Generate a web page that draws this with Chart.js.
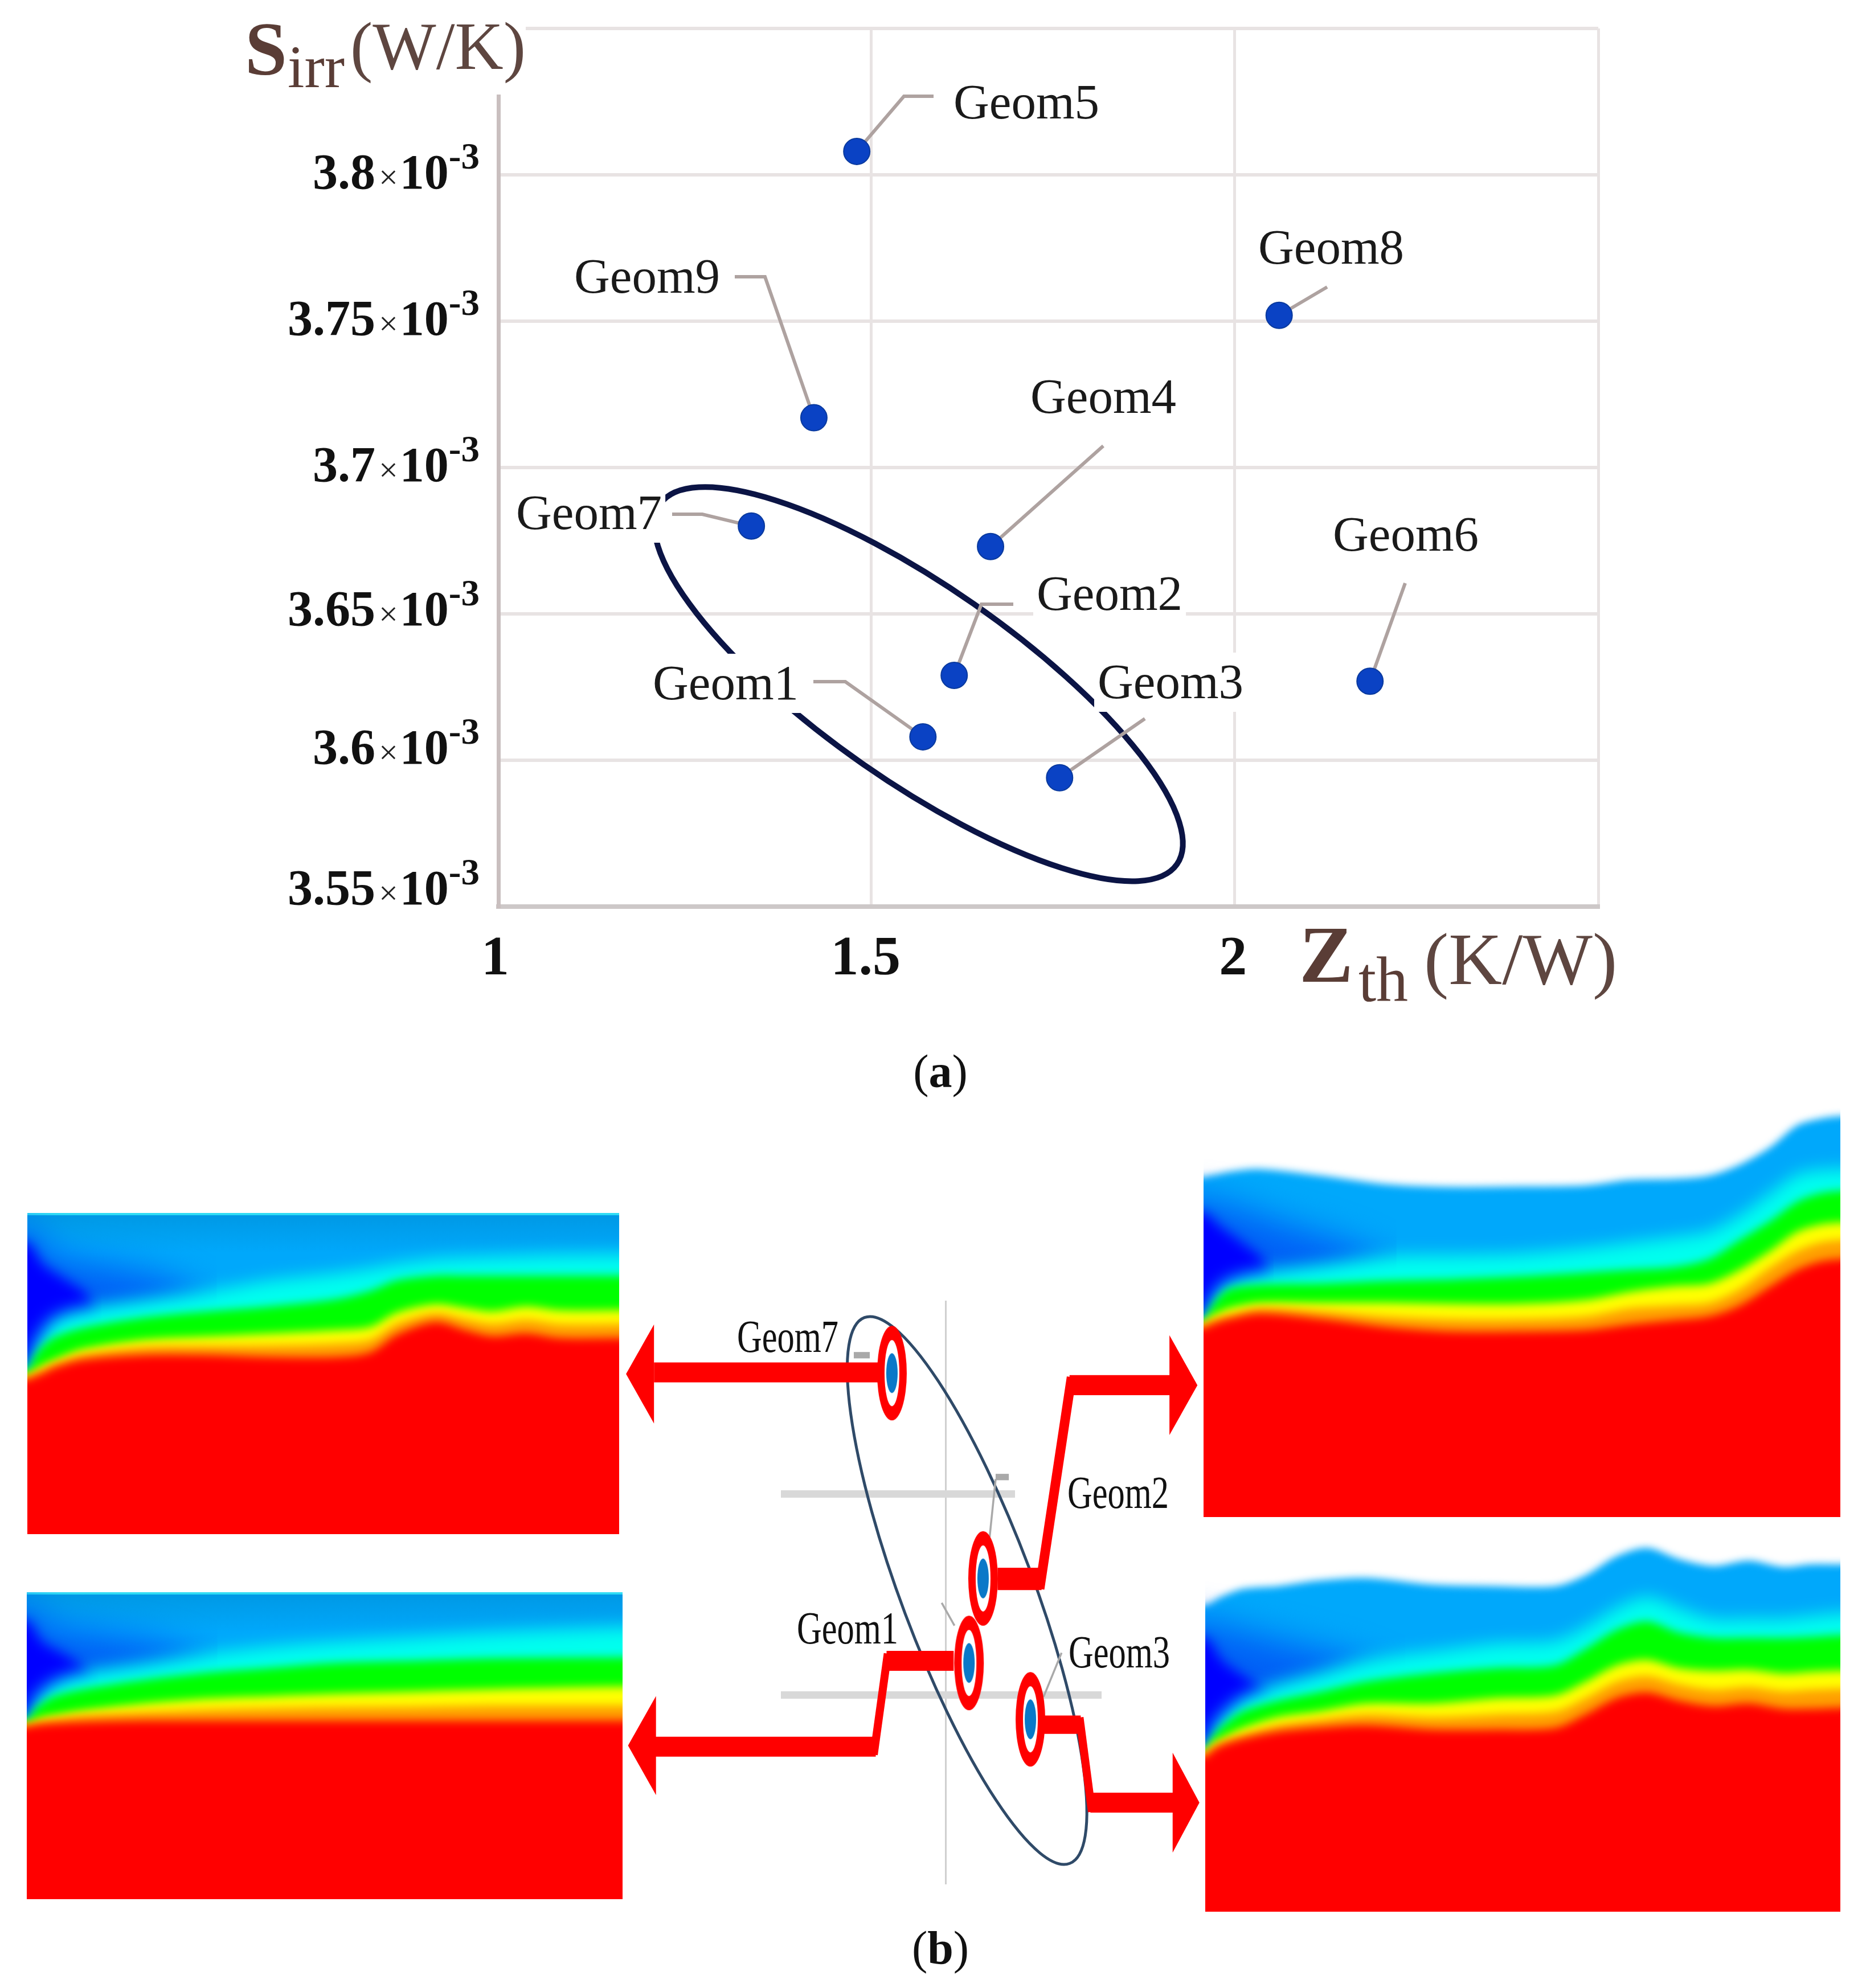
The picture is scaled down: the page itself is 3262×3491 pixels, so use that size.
<!DOCTYPE html>
<html>
<head>
<meta charset="utf-8">
<title>Sirr vs Zth</title>
<script src="https://cdn.jsdelivr.net/npm/chart.js@4/dist/chart.umd.min.js"></script>
<style>
    html, body { margin: 0; background: #fff; }
    body { position: relative; width: 3262px; height: 3491px; overflow: hidden; }
    canvas { position: absolute; }
    .caption { position: absolute; left: 1451px; width: 400px; text-align: center; font: 82px "Liberation Serif", serif; color: #111; line-height: 1; }
</style>
</head>
<body>
<canvas id="scatterA" width="3262" height="1960" style="left:0;top:0"></canvas>
<canvas id="panelG7" width="1039" height="564" style="left:48px;top:2130px"></canvas>
<canvas id="panelG1" width="1046" height="539" style="left:47px;top:2796px"></canvas>
<canvas id="panelG2" width="1118" height="726" style="left:2113px;top:1938px"></canvas>
<canvas id="panelG3" width="1115" height="653" style="left:2116px;top:2704px"></canvas>
<canvas id="scatterB" width="1030" height="1080" style="left:1090px;top:2260px"></canvas>
<div class="caption" style="top:1841px">(<b>a</b>)</div>
<div class="caption" style="top:3380px">(<b>b</b>)</div>

<script>
// ---- scatter data ----
const geomNames = ["Geom1", "Geom2", "Geom3", "Geom4", "Geom5", "Geom6", "Geom7", "Geom8", "Geom9"];
const zthValues = [1.571, 1.614, 1.759, 1.664, 1.480, 2.186, 1.335, 2.061, 1.421];
const sirrValues = [3.608, 3.629, 3.594, 3.673, 3.808, 3.627, 3.680, 3.752, 3.717];

const xTickValues = [1, 1.5, 2];
const xTickLabels = ["1", "1.5", "2"];
const yTickValues = [3.55, 3.6, 3.65, 3.7, 3.75, 3.8];
const yTickLabels = ["3.55", "3.6", "3.65", "3.7", "3.75", "3.8"];

// the four geometries picked out in part (b)
const pickedNames = ["Geom7", "Geom2", "Geom1", "Geom3"];

// ---- contour bands: x in % of panel width, values in image rows ----
const g7Stations = [0, 1, 2.5, 4.6, 9.5, 20, 31, 41, 52, 58, 62.4, 69, 74, 78.6, 84.3, 90, 100];
const g7Cyan = [425, 385, 350, 320, 300, 280, 262, 240, 225, 215, 205, 195, 192, 190, 188, 186, 185];
const g7Green = [430, 405, 380, 360, 340, 318, 305, 295, 280, 262, 240, 230, 230, 230, 230, 230, 230];
const g7Yellow = [440, 432, 420, 408, 385, 365, 358, 352, 345, 338, 308, 290, 298, 305, 295, 303, 303];
const g7Orange = [445, 438, 429, 416, 396, 380, 378, 377, 373, 365, 331, 309, 321, 331, 323, 332, 332];
const g7Red = [450, 445, 438, 425, 408, 398, 398, 402, 402, 392, 355, 328, 345, 358, 352, 362, 362];
const g7MidX = [0, 4.5, 14, 24, 32];
const g7Mid = [130, 185, 210, 240, 300];
const g7DeepX = [0, 2.5, 6, 10, 12.5];
const g7Deep = [160, 205, 235, 270, 340];

const g1Stations = [0, 1.2, 2.6, 4.7, 9.6, 20, 30.6, 41, 51.5, 65.5, 79.5, 100];
const g1Cyan = [1170, 1130, 1110, 1090, 1070, 1050, 1030, 1015, 1005, 995, 985, 975];
const g1Green = [1172, 1150, 1135, 1120, 1105, 1085, 1070, 1060, 1050, 1045, 1040, 1038];
const g1Yellow = [1178, 1172, 1165, 1160, 1150, 1135, 1125, 1120, 1115, 1110, 1105, 1100];
const g1Orange = [1183, 1178, 1172, 1168, 1160, 1153, 1148, 1145, 1143, 1142, 1140, 1140];
const g1Red = [1185, 1182, 1180, 1178, 1175, 1172, 1172, 1172, 1172, 1172, 1172, 1172];
const g1MidX = [0, 4.5, 14, 24, 32];
const g1Mid = [930, 970, 990, 1015, 1060];
const g1DeepX = [0, 2.5, 6, 9.5, 12];
const g1Deep = [960, 1005, 1030, 1060, 1110];

const g2Stations = [0, 0.9, 2, 4, 8.8, 18.5, 28.9, 39.3, 49.6, 60, 66.9, 73.8, 79.4, 84.2, 89, 93.2, 96.7, 100];
const g2Top = [175, 172, 170, 165, 160, 172, 188, 193, 192, 190, 180, 178, 172, 152, 120, 80, 68, 63];
const g2Cyan = [435, 410, 385, 365, 350, 335, 320, 318, 315, 305, 295, 285, 275, 245, 205, 170, 162, 160];
const g2Green = [438, 420, 400, 380, 372, 370, 365, 362, 357, 350, 345, 340, 325, 290, 255, 220, 205, 200];
const g2Yellow = [442, 432, 425, 415, 405, 405, 405, 407, 407, 400, 385, 375, 370, 345, 310, 275, 262, 258];
const g2Orange = [447, 440, 435, 428, 415, 420, 430, 435, 435, 430, 415, 410, 405, 380, 340, 310, 295, 290];
const g2Red = [452, 447, 442, 435, 425, 435, 450, 458, 458, 455, 445, 437, 430, 410, 375, 345, 330, 325];
const g2MidX = [0, 5, 12.5, 22, 30.3];
const g2Mid = [215, 230, 260, 295, 340];
const g2DeepX = [0, 2.5, 6, 9.5, 11];
const g2Deep = [240, 265, 295, 330, 400];

const g3Stations = [0, 1, 2.4, 5.9, 11.4, 17.6, 25.3, 35.7, 46.1, 55.1, 59.9, 64.8, 69.6, 74.5, 80, 85.6, 91.1, 95.3, 100];
const g3Top = [960, 955, 945, 930, 925, 915, 910, 922, 925, 925, 905, 870, 855, 875, 888, 878, 890, 885, 885];
const g3Cyan = [1222, 1190, 1165, 1130, 1105, 1085, 1060, 1045, 1030, 1025, 1000, 965, 945, 965, 985, 985, 985, 980, 975];
const g3Green = [1225, 1205, 1185, 1155, 1135, 1120, 1100, 1085, 1075, 1070, 1040, 1005, 990, 1010, 1020, 1020, 1020, 1018, 1015];
const g3Yellow = [1228, 1215, 1205, 1185, 1165, 1155, 1140, 1140, 1130, 1125, 1100, 1070, 1060, 1075, 1080, 1078, 1085, 1082, 1080];
const g3Orange = [1232, 1222, 1212, 1198, 1180, 1170, 1160, 1165, 1160, 1155, 1130, 1100, 1090, 1105, 1115, 1110, 1118, 1115, 1113];
const g3Red = [1238, 1228, 1218, 1205, 1192, 1185, 1180, 1188, 1188, 1185, 1160, 1130, 1120, 1135, 1145, 1140, 1150, 1150, 1148];
const g3MidX = [0, 5, 13.5, 22, 31.5];
const g3Mid = [990, 1005, 1030, 1055, 1100];
const g3DeepX = [0, 2.5, 6, 9.5, 12];
const g3Deep = [1020, 1060, 1090, 1120, 1170];

// ---- helpers ----
const SERIF = '"Liberation Serif", serif';
const SKY = "#00a8fb";

// callout layout for part (a): label left / centre y, then leader vertices towards the point
const calloutsA = {
    Geom1: { left: 1146, cy: 1200, leader: [[1428, 1197], [1484, 1197]] },
    Geom2: { left: 1820, cy: 1043, leader: [[1779, 1061], [1723, 1061]] },
    Geom3: { left: 1927, cy: 1198, leader: [[2010, 1262]] },
    Geom4: { left: 1809, cy: 697, leader: [[1937, 783]] },
    Geom5: { left: 1674, cy: 180, leader: [[1639, 169], [1587, 169]] },
    Geom6: { left: 2340, cy: 939, leader: [[2467, 1024]] },
    Geom7: { left: 906, cy: 901, leader: [[1180, 903], [1233, 903]] },
    Geom8: { left: 2209, cy: 435, leader: [[2330, 504]] },
    Geom9: { left: 1008, cy: 486, leader: [[1290, 486], [1343, 486]] },
};
// the picture's tick labels do not sit exactly on their ticks
const xLabelShift = [-22, -10, -3];
const yLabelShift = [-28, -18, -4, 0, 0, 0];

function textAt(ctx, text, x, y, font, color) {
    ctx.font = font;
    ctx.fillStyle = color;
    ctx.textAlign = "left";
    ctx.textBaseline = "alphabetic";
    ctx.fillText(text, x, y);
    return ctx.measureText(text).width;
}

function strokeEllipse(ctx, cx, cy, a, b, degrees, color, width) {
    ctx.save();
    ctx.beginPath();
    ctx.ellipse(cx, cy, a, b, degrees * Math.PI / 180, 0, Math.PI * 2);
    ctx.strokeStyle = color;
    ctx.lineWidth = width;
    ctx.stroke();
    ctx.restore();
}

function polyline(ctx, pts, color, width) {
    ctx.beginPath();
    pts.forEach((p, i) => (i ? ctx.lineTo(p[0], p[1]) : ctx.moveTo(p[0], p[1])));
    ctx.strokeStyle = color;
    ctx.lineWidth = width;
    ctx.lineJoin = "miter";
    ctx.stroke();
}

// ---- part (a) ----
const annotateA = {
    id: "annotateA",
    beforeDatasetsDraw(chart) {
        const ctx = chart.ctx;
        const sx = chart.scales.x, sy = chart.scales.y;
        ctx.save();
        // ellipse around the selected geometries
        strokeEllipse(ctx, sx.getPixelForValue(1.565), sy.getPixelForValue(3.626), 553, 171, 34.9, "#0b1445", 10);

        ctx.font = "87px " + SERIF;
        geomNames.forEach((name) => {
            const c = calloutsA[name];
            const w = ctx.measureText(name).width;
            ctx.fillStyle = "#fff";
            ctx.fillRect(c.left - 6, c.cy - 52, w + 12, 104);
        });
        geomNames.forEach((name, i) => {
            const c = calloutsA[name];
            const px = sx.getPixelForValue(zthValues[i]);
            const py = sy.getPixelForValue(sirrValues[i]);
            polyline(ctx, c.leader.concat([[px, py]]), "#aea2a0", 6);
            textAt(ctx, name, c.left, c.cy + 28, "87px " + SERIF, "#1a1a1a");
        });
        ctx.restore();
    },
    afterDraw(chart) {
        const ctx = chart.ctx;
        const sx = chart.scales.x, sy = chart.scales.y;
        ctx.save();

        // tick labels
        xTickValues.forEach((v, i) => {
            ctx.font = "bold 98px " + SERIF;
            const w = ctx.measureText(xTickLabels[i]).width;
            textAt(ctx, xTickLabels[i], Math.max(sx.getPixelForValue(v), sx.left) - w / 2 + xLabelShift[i], 1711, "bold 98px " + SERIF, "#111");
        });
        yTickValues.forEach((v, i) => {
            const base = sy.getPixelForValue(v) + 24 + yLabelShift[i];
            let x = 842;
            ctx.font = "bold 65px " + SERIF;
            x -= ctx.measureText("-3").width;
            textAt(ctx, "-3", x, base - 35, "bold 65px " + SERIF, "#111");
            ctx.font = "bold 86px " + SERIF;
            x -= ctx.measureText("10").width;
            textAt(ctx, "10", x, base, "bold 86px " + SERIF, "#111");
            ctx.font = "60px " + SERIF;
            x -= ctx.measureText("×").width + 3;
            textAt(ctx, "×", x, base, "60px " + SERIF, "#222");
            ctx.font = "bold 88px " + SERIF;
            x -= ctx.measureText(yTickLabels[i]).width + 6;
            textAt(ctx, yTickLabels[i], x, base, "bold 88px " + SERIF, "#111");
        });

        // axis titles, white patch trims the axis line and the top grid line
        ctx.fillStyle = "#fff";
        ctx.fillRect(425, 0, 498, 166);
        textAt(ctx, "S", 430, 131, "bold 133px " + SERIF, "#5a3d36");
        textAt(ctx, "irr", 505, 153, "106px " + SERIF, "#5a3d36");
        textAt(ctx, "(W/K)", 615, 121, "118px " + SERIF, "#5e4640");

        textAt(ctx, "Z", 2281, 1724, "bold 142px " + SERIF, "#5a3d36");
        textAt(ctx, "th", 2385, 1758, "112px " + SERIF, "#5a3d36");
        textAt(ctx, "(K/W)", 2500, 1728, "130px " + SERIF, "#5e4640");
        ctx.restore();
    },
};

new Chart(document.getElementById("scatterA"), {
    type: "scatter",
    data: {
        datasets: [{
            label: "Geometries",
            data: zthValues.map((x, i) => ({ x: x, y: sirrValues[i] })),
            pointRadius: 23,
            backgroundColor: "#0a42c4",
            borderColor: "#0a3a9e",
            borderWidth: 2,
        }],
    },
    options: {
        responsive: false,
        animation: false,
        devicePixelRatio: 1,
        events: [],
        layout: { padding: { left: 875, right: 456, top: 50, bottom: 368 } },
        plugins: { legend: { display: false }, tooltip: { enabled: false } },
        scales: {
            x: {
                type: "linear",
                min: 0.987,
                max: 2.5,
                afterBuildTicks: (axis) => { axis.ticks = [1.5, 2, 2.5].map((v) => ({ value: v })); },
                ticks: { display: false },
                grid: { color: "#e8e3e3", lineWidth: 5, drawTicks: false },
                border: { display: true, color: "#cdc8c8", width: 8 },
            },
            y: {
                type: "linear",
                min: 3.55,
                max: 3.85,
                afterBuildTicks: (axis) => { axis.ticks = yTickValues.concat([3.85]).map((v) => ({ value: v })); },
                ticks: { display: false },
                grid: { color: "#e8e3e3", lineWidth: 6, drawTicks: false },
                border: { display: true, color: "#c9bfbf", width: 7 },
            },
        },
    },
    plugins: [annotateA],
});

// ---- part (b), contour panels as stacked filled curves ----
function curve(stations, values) {
    // carry the ends past the panel so that the blur does not fade at the sides
    const pts = stations.map((x, i) => ({ x: x, y: values[i] }));
    pts.unshift({ x: -8, y: values[0] });
    if (stations[stations.length - 1] === 100) pts.push({ x: 108, y: values[values.length - 1] });
    return pts;
}

function contourPanel(id, rows, layers, flatTop) {
    const bottom = rows[1] + 80;
    // chart.js paints the first dataset last, so the list is turned round
    const datasets = layers.map((l) => ({
        label: l.name,
        data: curve(l.x, l.y),
        backgroundColor: l.color,
        blurPx: l.blur,
        borderWidth: 0,
        borderColor: "transparent",
        pointRadius: 0,
        tension: 0.3,
        fill: { value: bottom },
    })).reverse();

    new Chart(document.getElementById(id), {
        type: "line",
        data: { datasets: datasets },
        options: {
            responsive: false,
            animation: false,
            devicePixelRatio: 1,
            events: [],
            plugins: { legend: { display: false }, tooltip: { enabled: false } },
            scales: {
                x: { type: "linear", min: 0, max: 100, display: false },
                y: { type: "linear", min: rows[0], max: rows[1], reverse: true, display: false },
            },
        },
        plugins: [{
            id: "softBands",
            beforeDatasetsDraw(chart) {
                const a = chart.chartArea;
                const ctx = chart.ctx;
                if (flatTop) {
                    const g = ctx.createLinearGradient(0, a.top, 0, a.top + 70);
                    g.addColorStop(0, "#0098e4");
                    g.addColorStop(1, SKY);
                    ctx.fillStyle = g;
                    ctx.fillRect(a.left, a.top, a.width, a.height);
                    ctx.fillStyle = "#30dcf5";
                    ctx.fillRect(a.left, a.top, a.width, 4);
                }
                ctx.filter = "blur(" + datasets[datasets.length - 1].blurPx + "px)";
            },
            // the fill of a dataset is painted before this plugin's own before-hook,
            // so each layer sets up the blur of the layer that follows it
            afterDatasetDraw(chart, args) {
                const next = datasets[args.index - 1];
                chart.ctx.filter = next ? "blur(" + next.blurPx + "px)" : "none";
            },
            afterDatasetsDraw(chart) {
                chart.ctx.filter = "none";
            },
        }],
    });
}

function layerList(top, midX, mid, deepX, deep, stations, cyan, green, yellow, orange, red) {
    const list = [];
    if (top) list.push({ name: "sky", x: stations, y: top, color: SKY, blur: 7 });
    list.push({ name: "mid blue", x: midX, y: mid, color: "#0060f6", blur: 30 });
    list.push({ name: "deep blue", x: deepX, y: deep, color: "#0000ff", blur: 11 });
    list.push({ name: "cyan", x: stations, y: cyan, color: "#00ffee", blur: 15 });
    list.push({ name: "green", x: stations, y: green, color: "#00ff00", blur: 8 });
    list.push({ name: "yellow", x: stations, y: yellow, color: "#ffff00", blur: 8 });
    list.push({ name: "orange", x: stations, y: orange, color: "#ffa000", blur: 8 });
    list.push({ name: "red", x: stations, y: red, color: "#ff0000", blur: 8 });
    return list;
}

contourPanel("panelG7", [97, 777], layerList(null, g7MidX, g7Mid, g7DeepX, g7Deep, g7Stations, g7Cyan, g7Green, g7Yellow, g7Orange, g7Red), true);
contourPanel("panelG1", [900, 1550], layerList(null, g1MidX, g1Mid, g1DeepX, g1Deep, g1Stations, g1Cyan, g1Green, g1Yellow, g1Orange, g1Red), true);
contourPanel("panelG2", [40, 798], layerList(g2Top, g2MidX, g2Mid, g2DeepX, g2Deep, g2Stations, g2Cyan, g2Green, g2Yellow, g2Orange, g2Red), false);
contourPanel("panelG3", [840, 1522], layerList(g3Top, g3MidX, g3Mid, g3DeepX, g3Deep, g3Stations, g3Cyan, g3Green, g3Yellow, g3Orange, g3Red), false);

// ---- part (b), central detail of the ellipse ----
const RED = "#ff0000";

// ring marker, stretched like the cropped picture
function ringMarker() {
    const c = document.createElement("canvas");
    c.width = 56;
    c.height = 170;
    const g = c.getContext("2d");
    const blob = (rx, ry, color) => {
        g.beginPath();
        g.ellipse(28, 85, rx, ry, 0, 0, Math.PI * 2);
        g.fillStyle = color;
        g.fill();
    };
    blob(26, 83, RED);
    blob(13, 58, "#fff");
    blob(10, 35, "#0a78c8");
    return c;
}

function arrowHead(ctx, baseX, tipX, midY, halfH) {
    ctx.beginPath();
    ctx.moveTo(baseX, midY - halfH);
    ctx.lineTo(tipX, midY);
    ctx.lineTo(baseX, midY + halfH);
    ctx.closePath();
    ctx.fillStyle = RED;
    ctx.fill();
}

const annotateB = {
    id: "annotateB",
    beforeDatasetsDraw(chart) {
        const ctx = chart.ctx;
        const sx = chart.scales.x, sy = chart.scales.y;
        ctx.save();
        // upper grid line stops short of the Geom2 label
        ctx.fillStyle = "#fff";
        ctx.fillRect(692, sy.getPixelForValue(3.65) - 9, 170, 18);

        strokeEllipse(ctx, sx.getPixelForValue(1.565), sy.getPixelForValue(3.626), 512, 116, 69.4, "#2f4a68", 5);

        // the rest of the work is laid out in the crop's own coordinates
        ctx.save();
        ctx.translate(-40, -10);
        ctx.scale(0.7015, 0.7015);

        polyline(ctx, [[640, 185], [680, 185]], "#a9a9a9", 16);
        polyline(ctx, [[995, 490], [1028, 490]], "#a9a9a9", 16);
        polyline(ctx, [[995, 495], [980, 640]], "#a9a9a9", 5);
        polyline(ctx, [[860, 805], [892, 862]], "#a9a9a9", 5);
        polyline(ctx, [[1160, 930], [1115, 1040]], "#a9a9a9", 5);

        polyline(ctx, [[700, 228], [140, 228]], RED, 50);
        arrowHead(ctx, 140, 70, 232, 124);

        polyline(ctx, [[1000, 745], [1110, 745]], RED, 56);
        polyline(ctx, [[1105, 770], [1185, 240]], RED, 24);
        polyline(ctx, [[1180, 260], [1432, 260]], RED, 50);
        arrowHead(ctx, 1430, 1500, 260, 125);

        polyline(ctx, [[890, 950], [722, 950]], RED, 50);
        polyline(ctx, [[725, 932], [690, 1185]], RED, 20);
        polyline(ctx, [[695, 1165], [143, 1165]], RED, 50);
        arrowHead(ctx, 145, 75, 1162, 124);

        polyline(ctx, [[1115, 1110], [1208, 1110]], RED, 46);
        polyline(ctx, [[1205, 1092], [1236, 1328]], RED, 20);
        polyline(ctx, [[1232, 1305], [1440, 1305]], RED, 50);
        arrowHead(ctx, 1438, 1505, 1305, 125);
        ctx.restore();

        const labelFont = "80px " + SERIF;
        const labels = [[204, 88], [784, 362], [309, 600], [786, 642]];
        pickedNames.forEach((name, i) => {
            ctx.font = labelFont;
            ctx.fillStyle = "#111";
            ctx.textBaseline = "alphabetic";
            ctx.fillText(name, labels[i][0], labels[i][1] + 26, 178);
        });
        ctx.restore();
    },
};

const pickedPoints = pickedNames.map((name) => {
    const i = geomNames.indexOf(name);
    return { x: zthValues[i], y: sirrValues[i] };
});

new Chart(document.getElementById("scatterB"), {
    type: "scatter",
    data: {
        datasets: [{
            label: "Selected geometries",
            data: pickedPoints,
            pointStyle: ringMarker(),
            pointRadius: 20,
        }],
    },
    options: {
        responsive: false,
        animation: false,
        devicePixelRatio: 1,
        events: [],
        layout: { padding: { left: 281, right: 186, top: 24, bottom: 31 } },
        plugins: { legend: { display: false }, tooltip: { enabled: false } },
        scales: {
            x: {
                type: "linear",
                min: 0.995,
                max: 1.977,
                afterBuildTicks: (axis) => { axis.ticks = [{ value: 1.5 }]; },
                ticks: { display: false },
                grid: { color: "#cfcfcf", lineWidth: 3, drawTicks: false },
                border: { display: false },
            },
            y: {
                type: "linear",
                min: 3.553,
                max: 3.698,
                afterBuildTicks: (axis) => { axis.ticks = [{ value: 3.6 }, { value: 3.65 }]; },
                ticks: { display: false },
                grid: { color: "#d8d8d8", lineWidth: 13, drawTicks: false },
                border: { display: false },
            },
        },
    },
    plugins: [annotateB],
});
</script>
</body>
</html>
